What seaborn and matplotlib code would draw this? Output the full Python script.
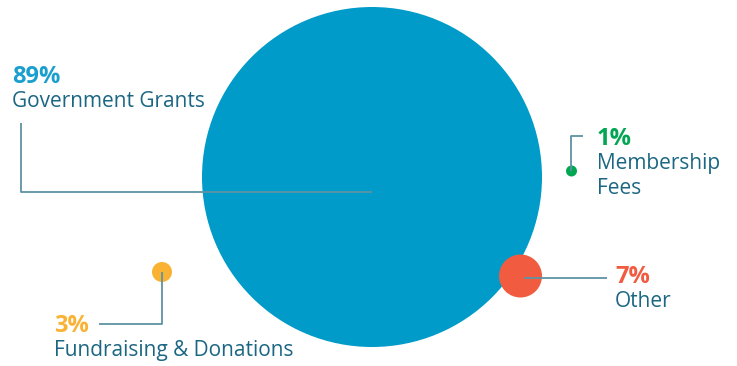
import matplotlib
matplotlib.use("Agg")
import matplotlib.pyplot as plt
import seaborn as sns
import pandas as pd

# data
categories = ["Government Grants", "Membership Fees", "Other", "Fundraising & Donations"]
label_lines = [["Government Grants"], ["Membership", "Fees"], ["Other"], ["Fundraising & Donations"]]
shares = [89, 1, 7, 3]

# layout (pixel coordinates) and styles
cx = [372, 571.5, 520.5, 162]
cy = [177, 171, 276, 272]
radius = [170, 5.5, 21.5, 10]
colors = ["#009BC8", "#00A651", "#F15B40", "#F9B234"]
pct_colors = ["#1A9FCE", "#00A651", "#F15B40", "#F9B234"]
text_color = "#1B6683"
line_color = "#5E93A3"

sns.set_theme(style="white")
plt.rcParams["font.family"] = ["Open Sans", "DejaVu Sans"]

W, H, DPI = 737, 366, 100
fig = plt.figure(figsize=(W / DPI, H / DPI), dpi=DPI)
ax = fig.add_axes([0, 0, 1, 1])
ax.set_xlim(0, W)
ax.set_ylim(H, 0)
ax.axis("off")

df = pd.DataFrame({"x": cx, "y": cy, "cat": categories, "share": shares})
sizes = [(2 * r * 72 / DPI) ** 2 for r in radius]
sns.scatterplot(data=df, x="x", y="y", hue="cat", palette=dict(zip(categories, colors)),
                s=sizes, linewidth=0, legend=False, ax=ax, zorder=2)

# connectors
conn = [
    ([372, 21, 21], [192, 192, 123]),
    ([571.5, 571.5, 583], [171, 136, 136]),
    ([524, 607], [278, 278]),
    ([162, 162, 99], [272, 324, 324]),
]
for xs, ys in conn:
    ax.plot(xs, ys, color=line_color, lw=1.3, zorder=3, solid_capstyle="butt")

# labels
text_x = [12, 597, 615, 54]
pct_base = [83, 145, 283, 332]
for i in range(len(categories)):
    ax.text(text_x[i], pct_base[i], f"{shares[i]}%", color=pct_colors[i], fontsize=17,
            fontweight="bold", va="baseline", ha="left")
    for j, line in enumerate(label_lines[i]):
        ax.text(text_x[i], pct_base[i] + 24 * (j + 1) + (1 if j else 0), line, color=text_color,
                fontsize=15, va="baseline", ha="left")

fig.savefig("out.png", dpi=DPI)
